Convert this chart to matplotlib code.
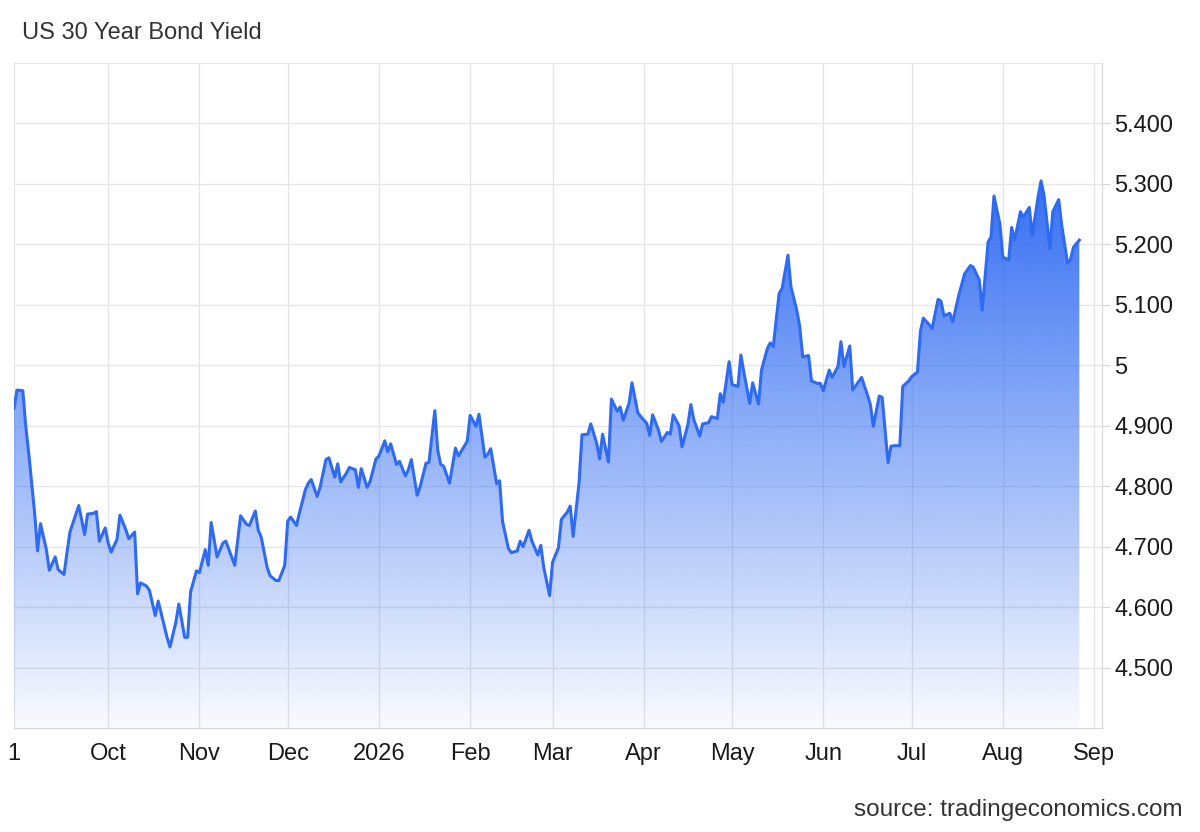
import matplotlib
matplotlib.use('Agg')
import matplotlib.pyplot as plt
import matplotlib.dates as mdates
from matplotlib.colors import to_rgb
import numpy as np
import pandas as pd

plt.rcParams['font.family'] = ['Liberation Sans', 'DejaVu Sans']

# daily closes
dates = [
    '2025-08-30', '2025-08-31',
    '2025-09-02', '2025-09-03', '2025-09-04', '2025-09-06', '2025-09-07', '2025-09-08', '2025-09-10',
    '2025-09-11', '2025-09-13', '2025-09-14', '2025-09-16', '2025-09-17', '2025-09-18', '2025-09-21',
    '2025-09-23', '2025-09-24', '2025-09-26', '2025-09-27', '2025-09-28', '2025-09-30',
    '2025-10-01', '2025-10-02', '2025-10-04', '2025-10-05', '2025-10-07', '2025-10-08', '2025-10-10',
    '2025-10-11', '2025-10-12', '2025-10-14', '2025-10-15', '2025-10-17', '2025-10-18', '2025-10-20',
    '2025-10-21', '2025-10-22', '2025-10-24', '2025-10-25', '2025-10-27', '2025-10-28', '2025-10-29',
    '2025-10-31',
    '2025-11-01', '2025-11-03', '2025-11-04', '2025-11-05', '2025-11-07', '2025-11-09', '2025-11-10',
    '2025-11-13', '2025-11-15', '2025-11-17', '2025-11-18', '2025-11-20', '2025-11-21', '2025-11-22',
    '2025-11-24', '2025-11-25', '2025-11-27', '2025-11-28', '2025-11-30',
    '2025-12-01', '2025-12-02', '2025-12-04', '2025-12-05', '2025-12-07', '2025-12-08', '2025-12-09',
    '2025-12-11', '2025-12-12', '2025-12-14', '2025-12-15', '2025-12-17', '2025-12-18', '2025-12-19',
    '2025-12-21', '2025-12-22', '2025-12-24', '2025-12-25', '2025-12-26', '2025-12-28', '2025-12-29',
    '2025-12-31',
    '2026-01-01', '2026-01-03', '2026-01-04', '2026-01-05', '2026-01-07', '2026-01-08', '2026-01-10',
    '2026-01-11', '2026-01-12', '2026-01-14', '2026-01-15', '2026-01-17', '2026-01-18', '2026-01-20',
    '2026-01-21', '2026-01-22', '2026-01-23', '2026-01-25', '2026-01-27', '2026-01-28', '2026-01-29',
    '2026-01-31',
    '2026-02-01', '2026-02-03', '2026-02-04', '2026-02-06', '2026-02-07', '2026-02-08', '2026-02-10',
    '2026-02-11', '2026-02-12', '2026-02-14', '2026-02-15', '2026-02-17', '2026-02-18', '2026-02-19',
    '2026-02-21', '2026-02-22', '2026-02-24', '2026-02-25', '2026-02-26', '2026-02-28',
    '2026-03-01', '2026-03-03', '2026-03-04', '2026-03-06', '2026-03-07', '2026-03-08', '2026-03-10',
    '2026-03-11', '2026-03-13', '2026-03-14', '2026-03-16', '2026-03-17', '2026-03-18', '2026-03-20',
    '2026-03-21', '2026-03-23', '2026-03-24', '2026-03-25', '2026-03-27', '2026-03-28', '2026-03-30',
    '2026-03-31',
    '2026-04-02', '2026-04-03', '2026-04-04', '2026-04-06', '2026-04-07', '2026-04-09', '2026-04-10',
    '2026-04-11', '2026-04-13', '2026-04-14', '2026-04-16', '2026-04-17', '2026-04-18', '2026-04-20',
    '2026-04-21', '2026-04-23', '2026-04-24', '2026-04-26', '2026-04-27', '2026-04-28', '2026-04-30',
    '2026-05-01', '2026-05-03', '2026-05-04', '2026-05-05', '2026-05-07', '2026-05-08', '2026-05-10',
    '2026-05-11', '2026-05-13', '2026-05-14', '2026-05-15', '2026-05-17', '2026-05-18', '2026-05-20',
    '2026-05-21', '2026-05-23', '2026-05-24', '2026-05-25', '2026-05-27', '2026-05-28', '2026-05-30',
    '2026-05-31',
    '2026-06-01', '2026-06-03', '2026-06-04', '2026-06-06', '2026-06-07', '2026-06-08', '2026-06-10',
    '2026-06-11', '2026-06-13', '2026-06-14', '2026-06-16', '2026-06-17', '2026-06-18', '2026-06-20',
    '2026-06-21', '2026-06-23', '2026-06-24', '2026-06-25', '2026-06-27', '2026-06-28', '2026-06-30',
    '2026-07-01', '2026-07-03', '2026-07-04', '2026-07-05', '2026-07-07', '2026-07-08', '2026-07-10',
    '2026-07-11', '2026-07-12', '2026-07-14', '2026-07-15', '2026-07-17', '2026-07-18', '2026-07-19',
    '2026-07-21', '2026-07-22', '2026-07-24', '2026-07-25', '2026-07-27', '2026-07-28', '2026-07-29',
    '2026-07-31',
    '2026-08-01', '2026-08-03', '2026-08-04', '2026-08-05', '2026-08-07', '2026-08-08', '2026-08-10',
    '2026-08-11', '2026-08-13', '2026-08-14', '2026-08-15', '2026-08-17', '2026-08-18', '2026-08-20',
    '2026-08-21', '2026-08-23', '2026-08-24', '2026-08-25', '2026-08-27',
]

yields = [
    4.929, 4.959,
    4.958, 4.899, 4.855, 4.756, 4.693, 4.738, 4.695,
    4.661, 4.683, 4.662, 4.654, 4.690, 4.724, 4.768,
    4.720, 4.754, 4.755, 4.758, 4.709, 4.731,
    4.706, 4.691, 4.712, 4.752, 4.728, 4.713, 4.724,
    4.622, 4.640, 4.635, 4.628, 4.586, 4.610, 4.570,
    4.550, 4.534, 4.575, 4.605, 4.550, 4.550, 4.625,
    4.660,
    4.657, 4.695, 4.669, 4.740, 4.683, 4.706, 4.709,
    4.669, 4.751, 4.737, 4.735, 4.759, 4.727, 4.716,
    4.666, 4.652, 4.644, 4.644, 4.669,
    4.742, 4.749, 4.735, 4.756, 4.794, 4.805, 4.811,
    4.783, 4.798, 4.844, 4.847, 4.815, 4.837, 4.807,
    4.822, 4.831, 4.827, 4.798, 4.829, 4.798, 4.808,
    4.845,
    4.850, 4.875, 4.857, 4.870, 4.836, 4.841, 4.817,
    4.827, 4.844, 4.785, 4.799, 4.838, 4.839, 4.925,
    4.859, 4.836, 4.833, 4.805, 4.863, 4.850, 4.858,
    4.874,
    4.917, 4.899, 4.919, 4.848, 4.853, 4.862, 4.804,
    4.809, 4.742, 4.697, 4.690, 4.693, 4.709, 4.700,
    4.727, 4.709, 4.686, 4.702, 4.666, 4.619,
    4.674, 4.698, 4.745, 4.757, 4.767, 4.717, 4.805,
    4.885, 4.886, 4.903, 4.871, 4.845, 4.886, 4.840,
    4.944, 4.924, 4.931, 4.909, 4.937, 4.971, 4.921,
    4.915,
    4.904, 4.884, 4.918, 4.893, 4.874, 4.889, 4.886,
    4.918, 4.900, 4.865, 4.902, 4.935, 4.910, 4.883,
    4.903, 4.905, 4.915, 4.912, 4.953, 4.939, 5.006,
    4.968, 4.965, 5.017, 4.989, 4.937, 4.971, 4.936,
    4.992, 5.028, 5.037, 5.031, 5.119, 5.127, 5.182,
    5.130, 5.091, 5.064, 5.014, 5.016, 4.974, 4.970,
    4.970,
    4.958, 4.992, 4.980, 4.998, 5.039, 4.998, 5.032,
    4.959, 4.973, 4.980, 4.951, 4.935, 4.899, 4.949,
    4.947, 4.839, 4.866, 4.867, 4.867, 4.965, 4.974,
    4.981, 4.989, 5.056, 5.078, 5.067, 5.061, 5.109,
    5.106, 5.082, 5.086, 5.072, 5.115, 5.133, 5.151,
    5.165, 5.162, 5.141, 5.091, 5.204, 5.212, 5.280,
    5.234,
    5.179, 5.174, 5.228, 5.207, 5.254, 5.245, 5.261,
    5.215, 5.279, 5.305, 5.281, 5.193, 5.254, 5.274,
    5.232, 5.169, 5.175, 5.195, 5.207,
]

tick_dates = ['2025-08-30', '2025-10-01', '2025-11-01', '2025-12-01', '2026-01-01', '2026-02-01',
              '2026-03-01', '2026-04-01', '2026-05-01', '2026-06-01', '2026-07-01', '2026-08-01',
              '2026-09-01']
tick_labels = ['1', 'Oct', 'Nov', 'Dec', '2026', 'Feb', 'Mar', 'Apr', 'May', 'Jun', 'Jul', 'Aug', 'Sep']
y_ticks = [4.5, 4.6, 4.7, 4.8, 4.9, 5.0, 5.1, 5.2, 5.3, 5.4]
y_labels = ['4.500', '4.600', '4.700', '4.800', '4.900', '5', '5.100', '5.200', '5.300', '5.400']

x = mdates.date2num(pd.to_datetime(dates))
y = np.array(yields)
y_bottom, y_top = 4.4, 5.5
x_left = mdates.date2num(pd.Timestamp('2025-08-30 04:00'))
x_right = mdates.date2num(pd.Timestamp('2026-09-03 17:00'))

line_c = '#2f6af2'
grid_c = '#e6e6e6'

fig = plt.figure(figsize=(12, 8.32), dpi=100)
ax = fig.add_axes([14/1200, 1 - 728/832, (1102 - 14)/1200, (728 - 63)/832])

# gradient fill under the line
n = 256
t = np.linspace(0, 1, n)
grad = np.zeros((n, 1, 4))
grad[:, 0, :3] = to_rgb(line_c)
grad[:, 0, 3] = 0.94*(1 - t) + 0.03
im = ax.imshow(grad, extent=[x.min(), x.max(), y_bottom, y.max()], aspect='auto',
               origin='upper', zorder=1, interpolation='bilinear')
area = ax.fill_between(x, y, y_bottom, facecolor='none', edgecolor='none')
im.set_clip_path(area.get_paths()[0], transform=ax.transData)

ax.plot(x, y, color=line_c, lw=2.2, zorder=3, solid_joinstyle='round')

ax.set_xlim(x_left, x_right)
ax.set_ylim(y_bottom, y_top)

ax.set_xticks(mdates.date2num(pd.to_datetime(tick_dates)))
ax.set_xticklabels(tick_labels)
ax.set_yticks(y_ticks)
ax.set_yticklabels(y_labels)
ax.yaxis.tick_right()

ax.grid(True, color=grid_c, lw=1, zorder=0)
ax.set_axisbelow(True)

ax.spines['left'].set_visible(False)
ax.spines['top'].set_color(grid_c)
ax.spines['bottom'].set_color('#d6d6d6')
ax.spines['right'].set_color('#d6d6d6')

ax.tick_params(axis='x', length=0, pad=11, labelsize=17, labelcolor='#1a1a1a')
ax.tick_params(axis='y', length=6, color='#d6d6d6', pad=3, labelsize=17, labelcolor='#1a1a1a')

fig.text(22/1200, 1 - 33/832, 'US 30 Year Bond Yield', fontsize=17, color='#333333',
         ha='left', va='center')
fig.text(1183/1200, 1 - 810/832, 'source: tradingeconomics.com', fontsize=17.5, color='#333333',
         ha='right', va='center')

fig.savefig('out.png', dpi=100, facecolor='white')
